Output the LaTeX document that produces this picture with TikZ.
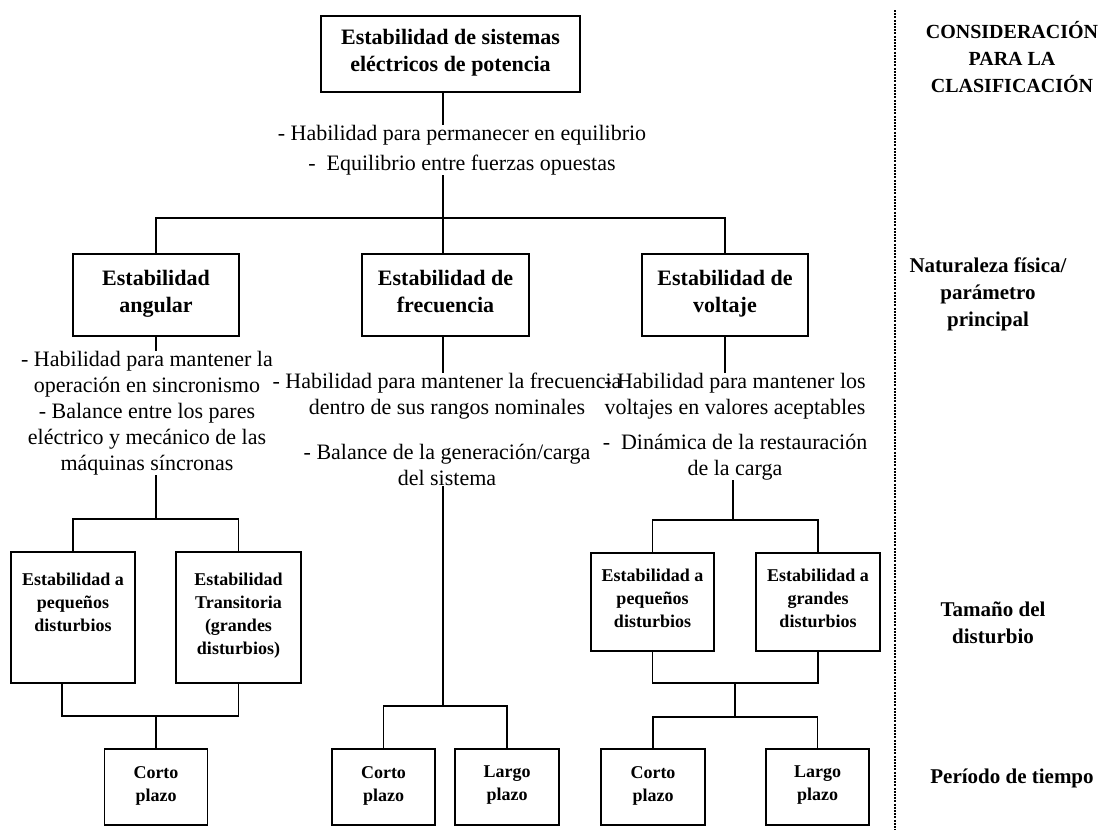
\documentclass[tikz,border=0pt]{standalone}
\usepackage{fontspec}
\setmainfont{Liberation Serif}

\begin{document}
\begin{tikzpicture}[x=1pt, y=-1pt,
      caja/.style={draw, line width=1.4pt, align=center, inner sep=0pt,
                   execute at begin node=\strut, execute at end node=\strut,
                   font=\bfseries\fontsize{22}{27}\selectfont},
      cajita/.style={draw, line width=1.4pt, align=center, inner sep=0pt,
                   execute at begin node=\strut, execute at end node=\strut,
                   font=\bfseries\fontsize{18}{23}\selectfont},
      texto/.style={align=center, inner sep=0pt, anchor=north,
                   font=\fontsize{22}{26}\selectfont},
      etiqueta/.style={align=center, inner sep=0pt,
                   font=\bfseries\fontsize{21}{27}\selectfont},
      conector/.style={line width=1.3pt}]
    \useasboundingbox (0,0) rectangle (1103,830);

    % nivel superior
    \node[caja, minimum width=259, minimum height=76] (S0) at (450.5,54)
          {Estabilidad de sistemas\\eléctricos de potencia};
    \node[texto] (tS) at (462,125)
          {- Habilidad para permanecer en equilibrio\\[4pt]-\ \ Equilibrio entre fuerzas opuestas};

    % naturaleza fisica
    \node[caja, minimum width=166, minimum height=82] (A) at (156,295)
          {Estabilidad\\angular};
    \node[caja, minimum width=167, minimum height=82] (F) at (445.5,295)
          {Estabilidad de\\frecuencia};
    \node[caja, minimum width=166, minimum height=82] (V) at (725,295)
          {Estabilidad de\\voltaje};

    \node[texto] (tA) at (147,351)
          {- Habilidad para mantener la\\operación en sincronismo\\- Balance entre los pares\\eléctrico y mecánico de las\\máquinas síncronas};
    \node[texto] (tF) at (447,373)
          {- Habilidad para mantener la frecuencia\\dentro de sus rangos nominales\\[19pt]- Balance de la generación/carga\\del sistema};
    \node[texto] (tV) at (735,373)
          {- Habilidad para mantener los\\voltajes en valores aceptables\\[9pt]-\ \ Dinámica de la restauración\\de la carga};

    % tamano del disturbio
    \node[cajita, minimum width=124, minimum height=131] (A1) at (73,617.5)
          {Estabilidad a\\pequeños\\disturbios\\\mbox{}};
    \node[cajita, minimum width=125, minimum height=131] (A2) at (238.5,617.5)
          {Estabilidad\\Transitoria\\(grandes\\disturbios)};
    \node[cajita, minimum width=123, minimum height=98] (V1) at (652.5,602)
          {Estabilidad a\\pequeños\\disturbios};
    \node[cajita, minimum width=124, minimum height=98] (V2) at (818,602)
          {Estabilidad a\\grandes\\disturbios};

    % periodo de tiempo
    \node[cajita, minimum width=103, minimum height=76] (AC) at (156,787)   {Corto\\plazo};
    \node[cajita, minimum width=103, minimum height=76] (FC) at (383.5,787) {Corto\\plazo};
    \node[cajita, minimum width=104, minimum height=76] (FL) at (507,787)   {Largo\\plazo};
    \node[cajita, minimum width=104, minimum height=76] (VC) at (653,787)   {Corto\\plazo};
    \node[cajita, minimum width=103, minimum height=76] (VL) at (817.5,787) {Largo\\plazo};

    % puntos de union
    \coordinate (jS)  at (443,218);
    \coordinate (jA)  at (156,519);
    \coordinate (jAb) at (156,716);
    \coordinate (jF)  at (443,706);
    \coordinate (jV)  at (733,520);
    \coordinate (jVb) at (735,683);
    \coordinate (jVc) at (735,717);

    \draw[conector] (jS |- S0.south) -- (jS |- tS.north);
    \draw[conector] (jS |- tS.south) -- (jS);
    \draw[conector] (A.north) |- (jS) -| (V.north);
    \draw[conector] (jS) -- (jS |- F.north);

    \draw[conector] (A.south) -- (A.south |- tA.north);
    \draw[conector] (jF |- F.south) -- (jF |- tF.north);
    \draw[conector] (V.south) -- (V.south |- tV.north);

    \draw[conector] (jA |- tA.south) -- (jA);
    \draw[conector] (A1.north) |- (jA) -| (A2.north);
    \draw[conector] ([xshift=-11pt]A1.south) |- (jAb) -| (A2.south);
    \draw[conector] (jAb) -- (AC.north);

    \draw[conector] (jF |- tF.south) -- (jF);
    \draw[conector] (FC.north) |- (jF) -| (FL.north);

    \draw[conector] (jV |- tV.south) -- (jV);
    \draw[conector] (V1.north) |- (jV) -| (V2.north);
    \draw[conector] (V1.south) |- (jVb) -| (V2.south);
    \draw[conector] (jVb) -- (jVc);
    \draw[conector] (VC.north) |- (jVc) -| (VL.north);

    % columna de consideraciones
    \draw[line width=2.6pt, dash pattern=on 2pt off 1.2pt] (895,10) -- (895,830);
    \node[etiqueta, font=\bfseries\fontsize{20}{27}\selectfont] (K1) at (1012,57)
          {CONSIDERACIÓN\\PARA LA\\CLASIFICACIÓN};
    \node[etiqueta] (K2) at (988,294)  {Naturaleza física/\\parámetro\\principal};
    \node[etiqueta] (K3) at (993,623)  {Tamaño del\\disturbio};
    \node[etiqueta] (K4) at (1012,778) {Período de tiempo};
  \end{tikzpicture}
\end{document}
